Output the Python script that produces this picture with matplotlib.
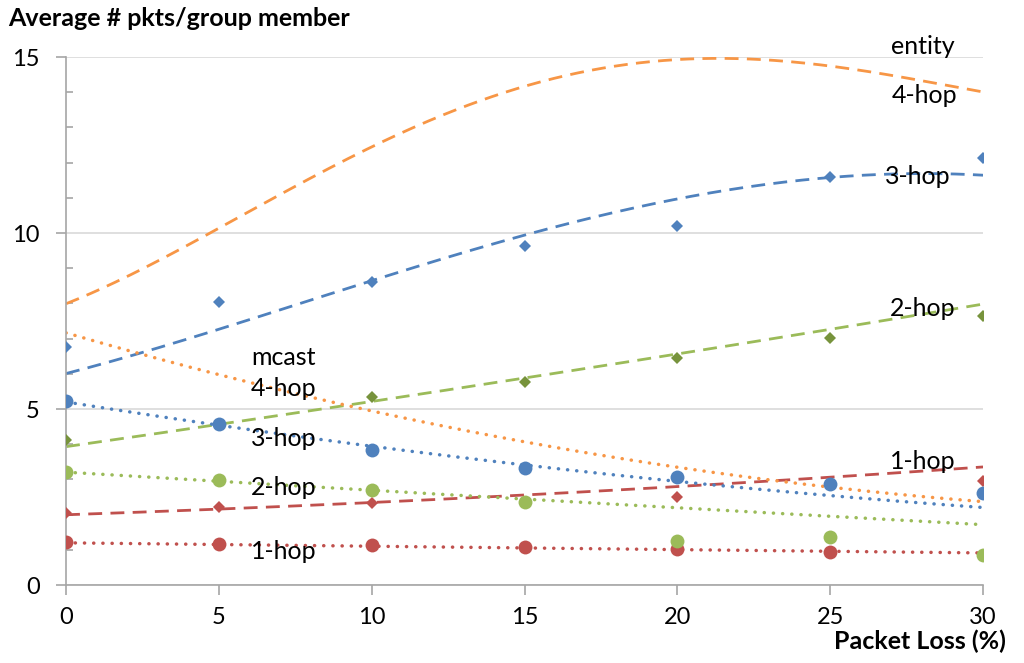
import matplotlib.pyplot as plt
import numpy as np

plt.rcParams["font.family"] = ["Lato", "DejaVu Sans"]

# packet loss (%)
loss = [0, 5, 10, 15, 20, 25, 30]

# measured points (None = hidden in picture)
entity_3hop = [6.76, 8.04, 8.61, 9.63, 10.2, 11.6, 12.13]
entity_2hop = [4.12, None, 5.34, 5.77, 6.45, 7.02, 7.64]
entity_1hop = [2.05, 2.22, 2.33, None, 2.5, None, 2.95]

mcast_3hop = [5.23, 4.57, 3.84, 3.32, 3.07, 2.87, 2.61]
mcast_2hop = [3.21, 2.98, 2.70, 2.36, 1.25, 1.36, 0.85]
mcast_1hop = [1.22, 1.17, 1.14, 1.08, 1.02, 0.94, None]

# trendline values read at each loss level
trend_entity_4hop = [8.0, 10.1, 12.5, 14.15, 14.9, 14.77, 14.0]
trend_entity_3hop = [6.0, 7.3, 8.6, 9.95, 11.0, 11.55, 11.65]
trend_entity_2hop = [4.0, 4.5, 5.15, 5.85, 6.65, 7.35, 7.9]
trend_entity_1hop = [2.0, 2.15, 2.35, 2.55, 2.8, 3.07, 3.35]
trend_mcast_4hop = [7.2, 5.95, 4.9, 4.05, 3.41, 2.81, 2.33]
trend_mcast_3hop = [5.2, 4.55, 3.93, 3.4, 2.95, 2.56, 2.19]
trend_mcast_2hop = [3.2, 2.95, 2.7, 2.45, 2.19, 1.93, 1.73]
trend_mcast_1hop = [1.2, 1.15, 1.1, 1.05, 1.01, 0.96, 0.91]

BLUE = "#4F81BD"
RED = "#C0504D"
GREEN = "#9BBB59"
DKGREEN = "#77933C"
ORANGE = "#F79646"

fig = plt.figure(figsize=(10.24, 6.63), dpi=100)
ax = fig.add_axes([0.0645, 0.1176, 0.8955, 0.7964])

xs = np.linspace(0, 30, 300)


def trend(vals, color, dotted, deg=4):
    c = np.polyfit(loss, vals, deg)
    if dotted:
        ax.plot(xs, np.polyval(c, xs), color=color, lw=2.5,
                linestyle=(0, (0.05, 2.6)), dash_capstyle="round", zorder=2)
    else:
        ax.plot(xs, np.polyval(c, xs), color=color, lw=2.0,
                linestyle=(0, (5, 3)), zorder=2)


trend(trend_entity_4hop, ORANGE, False)
trend(trend_entity_3hop, BLUE, False)
trend(trend_entity_2hop, GREEN, False, 2)
trend(trend_entity_1hop, RED, False, 2)
trend(trend_mcast_4hop, ORANGE, True, 2)
trend(trend_mcast_3hop, BLUE, True, 2)
trend(trend_mcast_2hop, GREEN, True, 2)
trend(trend_mcast_1hop, RED, True, 2)


def pts(vals, color, marker, size):
    x = [a for a, b in zip(loss, vals) if b is not None]
    y = [b for b in vals if b is not None]
    ax.plot(x, y, linestyle="none", marker=marker, color=color,
            markersize=size, markeredgewidth=0, zorder=3)


pts(entity_3hop, BLUE, "D", 6.5)
pts(entity_2hop, DKGREEN, "D", 6.5)
pts(entity_1hop, RED, "D", 6.5)
pts(mcast_1hop, RED, "o", 10)
pts(mcast_2hop, GREEN, "o", 10)
pts(mcast_3hop, BLUE, "o", 10)

ax.set_xlim(0, 30)
ax.set_ylim(0, 15)
ax.set_xticks([0, 5, 10, 15, 20, 25, 30])
ax.set_yticks([0, 5, 10, 15])
ax.set_yticks(np.arange(0, 16, 1), minor=True)
ax.yaxis.grid(True, color="#D9D9D9", lw=1.2)
ax.set_axisbelow(True)

for s in ["top", "right"]:
    ax.spines[s].set_visible(False)
for s in ["left", "bottom"]:
    ax.spines[s].set_color("#A6A6A6")
    ax.spines[s].set_linewidth(1.2)

ax.tick_params(axis="both", which="major", labelsize=17, color="#A6A6A6",
               width=1.2, length=7)
ax.tick_params(axis="y", which="major", direction="out", pad=12)
ax.tick_params(axis="y", which="minor", direction="in", length=5,
               color="#A6A6A6", width=1.2)
ax.tick_params(axis="x", which="major", direction="out", pad=9)

fig.text(0.008, 0.972, "Average # pkts/group member", fontsize=18,
         fontweight="bold", va="center", ha="left")
fig.text(0.982, 0.032, "Packet Loss (%)", fontsize=18, fontweight="bold",
         va="center", ha="right")

lab = dict(fontsize=18, va="center", ha="left")
ax.text(27.0, 15.3, "entity", **lab)
ax.text(27.0, 13.9, "4-hop", **lab)
ax.text(26.8, 11.6, "3-hop", **lab)
ax.text(26.95, 7.87, "2-hop", **lab)
ax.text(26.95, 3.5, "1-hop", **lab)
ax.text(6.05, 6.45, "mcast", **lab)
ax.text(6.05, 5.57, "4-hop", **lab)
ax.text(6.05, 4.15, "3-hop", **lab)
ax.text(6.05, 2.76, "2-hop", **lab)
ax.text(6.05, 0.94, "1-hop", **lab)

fig.savefig("out.png", dpi=100)
